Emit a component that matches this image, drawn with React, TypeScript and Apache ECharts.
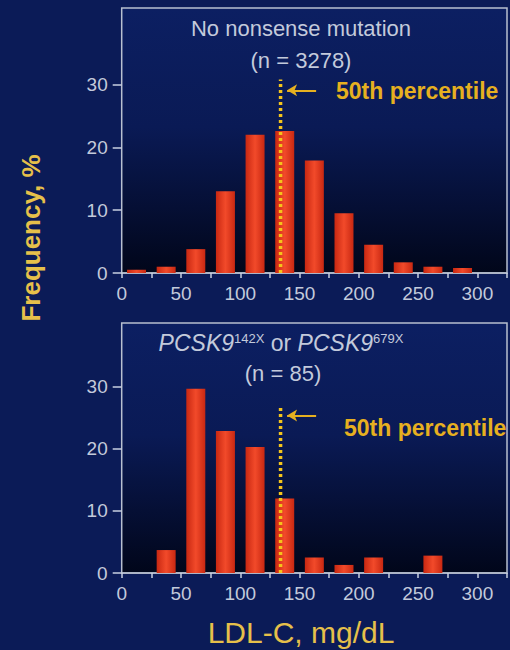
import React, { useEffect, useRef } from "react";
import * as echarts from "echarts";

const binCenters = [12.5, 37.5, 62.5, 87.5, 112.5, 137.5, 162.5, 187.5, 212.5, 237.5, 262.5, 287.5];
const freqNoMutation = [0.5, 1.0, 3.8, 13.0, 22.0, 22.6, 17.9, 9.5, 4.5, 1.7, 1.0, 0.8];
const freqPCSK9 = [0, 3.7, 29.7, 22.9, 20.3, 12.0, 2.5, 1.3, 2.5, 0, 2.8, 0];
const yTicks = [0, 10, 20, 30];
const xLabelValues = [0, 50, 100, 150, 200, 250, 300];
const medianTop = 134;
const medianBottom = 134;
const medianLineTopTop = 30.8;
const medianLineTopBottom = 27.1;

const FONT = "'Liberation Sans', Arial, sans-serif";
const GRAY = "#c3cadb";
const GOLD = "#e6b020";
const GOLD_LABEL = "#e6c04a";

export default function App() {
  const ref = useRef<HTMLDivElement>(null);
  useEffect(() => {
    if (!ref.current) return;
    const chart = echarts.init(ref.current, undefined, { renderer: "svg" });

    const plotBg = new echarts.graphic.LinearGradient(0, 0, 0, 1, [
      { offset: 0, color: "#0c1f62" },
      { offset: 0.45, color: "#0a1a55" },
      { offset: 1, color: "#01061a" },
    ]);
    const barColor = new echarts.graphic.LinearGradient(0, 0, 1, 0, [
      { offset: 0, color: "#c82812" },
      { offset: 0.5, color: "#f24a2a" },
      { offset: 1, color: "#c82812" },
    ]);

    const grids = [
      { left: 121.7, top: 8, width: 390, height: 265 },
      { left: 121.7, top: 323, width: 390, height: 250 },
    ].map((g) => ({
      ...g,
      show: true,
      backgroundColor: plotBg,
      borderColor: "#b8c0d0",
      borderWidth: 1.5,
    }));

    const xAxis = (idx: number) => ({
      type: "value",
      gridIndex: idx,
      min: 0,
      max: 325,
      interval: 25,
      splitLine: { show: false },
      axisLine: { show: true, lineStyle: { color: "#b8c0d0", width: 1.5 } },
      axisTick: { show: true, length: 5, lineStyle: { color: "#c8d0e0", width: 1.5 } },
      axisLabel: {
        color: GRAY,
        fontFamily: FONT,
        fontSize: 19,
        margin: 11,
        formatter: (v: number) => (xLabelValues.includes(v) ? String(v) : ""),
      },
    });

    const yAxis = (idx: number, max: number) => ({
      type: "value",
      gridIndex: idx,
      min: 0,
      max,
      splitLine: { show: false },
      axisLine: { show: false },
      axisTick: {
        show: true,
        length: 9,
        customValues: yTicks,
        lineStyle: { color: "#c8d0e0", width: 1.5 },
      },
      axisLabel: {
        color: GRAY,
        fontFamily: FONT,
        fontSize: 19,
        margin: 14,
        customValues: yTicks,
      },
    });

    const barSeries = (idx: number, values: number[]) => ({
      type: "bar",
      xAxisIndex: idx,
      yAxisIndex: idx,
      barWidth: 19,
      data: binCenters.map((c, i) => [c, values[i]]),
      itemStyle: { color: barColor },
      z: 2,
    });

    const medianSeries = (idx: number, x: number, top: number) => ({
      type: "line",
      xAxisIndex: idx,
      yAxisIndex: idx,
      data: [
        [x, 0],
        [x, top],
      ],
      showSymbol: false,
      symbol: "none",
      lineStyle: { color: "#f4c41c", width: 3.5, type: [3, 3] },
      z: 5,
      markLine: {
        silent: true,
        symbol: ["none", "arrow"],
        symbolSize: [9, 10],
        label: { show: false },
        lineStyle: { color: GOLD, width: 2, type: "solid" },
        data: [
          [
            { coord: [x + 30, top - 1.7] },
            { coord: [x + 5.5, top - 1.7] },
          ],
        ],
      },
    });

    const option = {
      animation: false,
      backgroundColor: "#0b1b57",
      grid: grids,
      xAxis: [xAxis(0), xAxis(1)],
      yAxis: [yAxis(0, 42.2), yAxis(1, 40.3)],
      series: [
        barSeries(0, freqNoMutation),
        barSeries(1, freqPCSK9),
        medianSeries(0, medianTop, medianLineTopTop),
        medianSeries(1, medianBottom, medianLineTopBottom),
      ],
      graphic: [
        {
          type: "text",
          x: 301,
          y: 28,
          style: {
            text: "No nonsense mutation",
            fill: GRAY,
            font: `22px ${FONT}`,
            align: "center",
            verticalAlign: "middle",
          },
        },
        {
          type: "text",
          x: 301,
          y: 60,
          style: {
            text: "(n = 3278)",
            fill: GRAY,
            font: `22px ${FONT}`,
            align: "center",
            verticalAlign: "middle",
          },
        },
        {
          type: "text",
          x: 281,
          y: 343,
          style: {
            text: "{i|PCSK9}{s|142X}{n| or }{i|PCSK9}{s|679X}",
            fill: GRAY,
            align: "center",
            verticalAlign: "middle",
            rich: {
              i: { fontFamily: FONT, fontSize: 23, fontStyle: "italic", fill: GRAY, lineHeight: 23 },
              n: { fontFamily: FONT, fontSize: 23, fill: GRAY, lineHeight: 23 },
              s: { fontFamily: FONT, fontSize: 13, fill: GRAY, verticalAlign: "top", lineHeight: 15 },
            },
          },
        },
        {
          type: "text",
          x: 283,
          y: 373,
          style: {
            text: "(n = 85)",
            fill: GRAY,
            font: `22px ${FONT}`,
            align: "center",
            verticalAlign: "middle",
          },
        },
        {
          type: "text",
          x: 336,
          y: 91,
          style: {
            text: "50th percentile",
            fill: GOLD,
            font: `bold 23px ${FONT}`,
            align: "left",
            verticalAlign: "middle",
          },
        },
        {
          type: "text",
          x: 344,
          y: 428,
          style: {
            text: "50th percentile",
            fill: GOLD,
            font: `bold 23px ${FONT}`,
            align: "left",
            verticalAlign: "middle",
          },
        },
        {
          type: "text",
          x: 31,
          y: 238,
          rotation: Math.PI / 2,
          style: {
            text: "Frequency, %",
            fill: GOLD_LABEL,
            font: `bold 26px ${FONT}`,
            align: "center",
            verticalAlign: "middle",
          },
        },
        {
          type: "text",
          x: 301,
          y: 632,
          style: {
            text: "LDL-C, mg/dL",
            fill: GOLD_LABEL,
            font: `30px ${FONT}`,
            align: "center",
            verticalAlign: "middle",
          },
        },
      ],
    };

    chart.setOption(option as any);
    return () => chart.dispose();
  }, []);

  return (
    <div
      ref={ref}
      style={{ position: "absolute", left: 0, top: 0, width: 510, height: 650 }}
    />
  );
}
